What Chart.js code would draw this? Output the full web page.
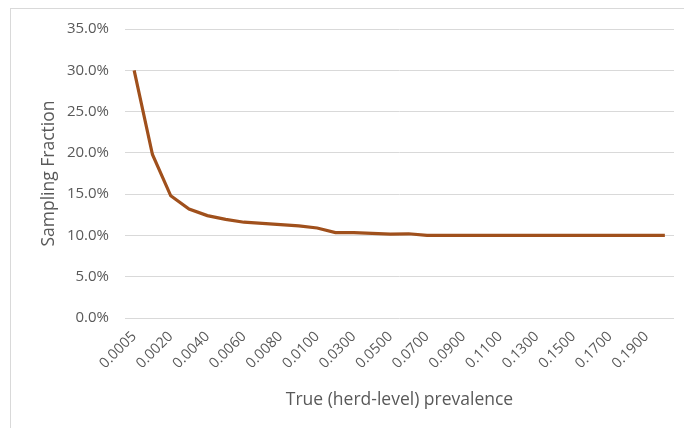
<!DOCTYPE html>
<html>
<head>
<meta charset="utf-8">
<script src="https://cdn.jsdelivr.net/npm/chart.js@4/dist/chart.umd.min.js"></script>
<style>
  html, body { margin: 0; padding: 0; background: #ffffff; overflow: hidden; }
  #wrap { position: relative; width: 684px; height: 428px; }
  #frame { position: absolute; left: 10px; top: 8px; width: 700px; height: 460px; border: 1px solid #d9d9d9; box-sizing: border-box; }
  #c { position: absolute; left: 0; top: 0; }
</style>
</head>
<body>
<div id="wrap">
  <div id="frame"></div>
  <canvas id="c" width="684" height="428"></canvas>
</div>
<script>
const categories = ['0.0005','0.0010','0.0020','0.0030','0.0040','0.0050','0.0060','0.0070','0.0080','0.0090',
                    '0.0100','0.0200','0.0300','0.0400','0.0500','0.0600','0.0700','0.0800','0.0900','0.1000',
                    '0.1100','0.1200','0.1300','0.1400','0.1500','0.1600','0.1700','0.1800','0.1900','0.2000'];
const samplingFraction = [30.0, 19.8, 14.8, 13.2, 12.4, 11.95, 11.6, 11.45, 11.3, 11.15,
                          10.9, 10.35, 10.35, 10.25, 10.15, 10.2, 10.0, 10.0, 10.0, 10.0,
                          10.0, 10.0, 10.0, 10.0, 10.0, 10.0, 10.0, 10.0, 10.0, 10.0];
const yTicks = [0, 5, 10, 15, 20, 25, 30, 35];
const xTitle = 'True (herd-level) prevalence';
const yTitle = 'Sampling Fraction';

const FONT = '"Open Sans"';
const TXT = '#595959';

new Chart(document.getElementById('c'), {
  type: 'line',
  data: {
    labels: categories,
    datasets: [{
      label: yTitle,
      data: samplingFraction,
      borderColor: '#A0501C',
      backgroundColor: '#A0501C',
      borderWidth: 3.2,
      pointRadius: 0,
      tension: 0,
      fill: false
    }]
  },
  options: {
    responsive: false,
    devicePixelRatio: 1,
    animation: false,
    layout: { padding: { left: 39, right: 10, top: 29, bottom: 10 } },
    plugins: { legend: { display: false }, tooltip: { enabled: false } },
    scales: {
      x: {
        offset: true,
        grid: { display: false, drawTicks: false },
        border: { display: false },
        ticks: {
          autoSkip: false,
          maxRotation: 45,
          minRotation: 45,
          padding: 10,
          color: TXT,
          font: { family: FONT, size: 14.5 },
          callback: function (v, i) { return i % 2 === 0 ? categories[i] : ''; }
        },
        title: { display: true, text: xTitle, color: TXT, font: { family: FONT, size: 17.5 }, padding: { top: 0, bottom: 7 } },
        afterFit: function (s) { s.height = 100; s.paddingRight = 0; s.paddingLeft = 0; }
      },
      y: {
        min: 0,
        max: 35,
        afterBuildTicks: function (s) { s.ticks = yTicks.map(v => ({ value: v })); },
        grid: { color: '#d9d9d9', lineWidth: 1, drawTicks: false },
        border: { display: false },
        ticks: {
          padding: 16,
          color: TXT,
          font: { family: FONT, size: 15 },
          callback: function (v) { return Number(v).toFixed(1) + '%'; }
        },
        title: { display: true, text: yTitle, color: TXT, font: { family: FONT, size: 17.5 }, padding: 0 },
        afterFit: function (s) { s.width = 86; }
      }
    }
  }
});
</script>
</body>
</html>
